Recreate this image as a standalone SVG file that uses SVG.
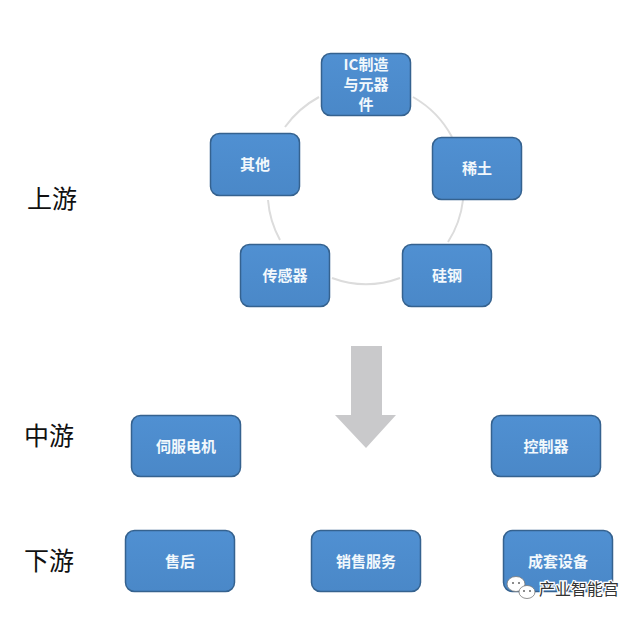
<svg xmlns="http://www.w3.org/2000/svg" width="640" height="618" viewBox="0 0 640 618">
  <style>
    .n { fill: url(#nodeFill); stroke: #35628f; stroke-width: 1.5; }
    .t { font-family: "Noto Sans CJK SC", "Liberation Sans", sans-serif; font-size: 15px; font-weight: 700; fill: #f2f8fc; text-anchor: middle; }
    .side { font-family: "Noto Sans CJK SC", "Liberation Sans", sans-serif; font-size: 25px; fill: #111; }
    .arc { fill: none; stroke: #dcdcdc; stroke-width: 2; }
    .wm { font-family: "Noto Sans CJK SC", "Liberation Sans", sans-serif; font-size: 16px; fill: #333; stroke: #fff; stroke-width: 2.5px; paint-order: stroke; }
  </style>
  <defs>
    <linearGradient id="nodeFill" x1="0" y1="0" x2="0" y2="1">
      <stop offset="0" stop-color="#5090d2"/>
      <stop offset="1" stop-color="#4a88c8"/>
    </linearGradient>
  </defs>
  <rect width="640" height="618" fill="#fff"/>
  <g id="connectors">
    <path class="arc" d="M413 97 A101 101 0 0 1 452 137"/>
    <path class="arc" d="M463 200 A98 98 0 0 1 448 242"/>
    <path class="arc" d="M400 278 A98 98 0 0 1 332 278"/>
    <path class="arc" d="M280 240 A99 99 0 0 1 268 200"/>
    <path class="arc" d="M285 127 A101 101 0 0 1 319 97"/>
  </g>
  <g id="flow-arrow">
    <path d="M351 346 H382 V415 H396 L366 448 L335 415 H351 Z" fill="#c9c9cb"/>
  </g>
  <g id="node-ic">
    <rect class="n" x="321.500" y="53.500" width="89" height="62" rx="9"/>
    <text class="t" x="366" y="70">IC制造</text>
    <text class="t" x="366" y="90">与元器</text>
    <text class="t" x="366" y="110">件</text>
  </g>
  <g id="node-xitu">
    <rect class="n" x="432.500" y="137.500" width="89" height="62" rx="9"/>
    <text class="t" x="477" y="174">稀土</text>
  </g>
  <g id="node-guigang">
    <rect class="n" x="402.500" y="244.500" width="89" height="62" rx="9"/>
    <text class="t" x="447" y="281">硅钢</text>
  </g>
  <g id="node-chuanganqi">
    <rect class="n" x="240.500" y="244.500" width="89" height="62" rx="9"/>
    <text class="t" x="285" y="281">传感器</text>
  </g>
  <g id="node-qita">
    <rect class="n" x="210.500" y="133.500" width="89" height="62" rx="9"/>
    <text class="t" x="255" y="170">其他</text>
  </g>
  <g id="node-sifu">
    <rect class="n" x="131.500" y="415.500" width="109" height="61" rx="9"/>
    <text class="t" x="186" y="452">伺服电机</text>
  </g>
  <g id="node-kongzhi">
    <rect class="n" x="491.500" y="415.500" width="109" height="61" rx="9"/>
    <text class="t" x="546" y="452">控制器</text>
  </g>
  <g id="node-shouhou">
    <rect class="n" x="125.500" y="530.500" width="109" height="61" rx="9"/>
    <text class="t" x="180" y="567">售后</text>
  </g>
  <g id="node-xiaoshou">
    <rect class="n" x="311.500" y="530.500" width="109" height="61" rx="9"/>
    <text class="t" x="366" y="567">销售服务</text>
  </g>
  <g id="node-chengtao">
    <rect class="n" x="503.500" y="530.500" width="109" height="61" rx="9"/>
    <text class="t" x="558" y="567">成套设备</text>
  </g>
  <g id="labels">
    <text class="side" x="27" y="208">上游</text>
    <text class="side" x="24" y="445">中游</text>
    <text class="side" x="24" y="570">下游</text>
  </g>
  <g id="watermark">
    <ellipse cx="516" cy="584" rx="9" ry="7.500" fill="#fff" stroke="#777" stroke-width="0.800"/>
    <ellipse cx="527" cy="592" rx="8" ry="6.500" fill="#fff" stroke="#777" stroke-width="0.800"/>
    <circle cx="513" cy="583" r="1" fill="#666"/>
    <circle cx="519" cy="583" r="1" fill="#666"/>
    <circle cx="524" cy="591" r="1" fill="#666"/>
    <circle cx="530" cy="591" r="1" fill="#666"/>
    <text class="wm" x="539" y="595">产业智能宫</text>
  </g>
</svg>
